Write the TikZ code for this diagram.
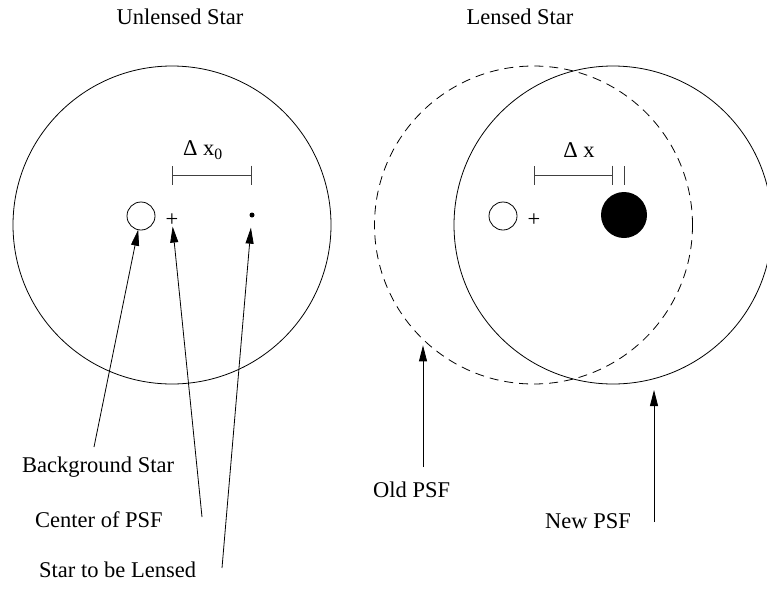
\documentclass[tikz,border=0pt]{standalone}
\usepackage{fontspec}
\setmainfont{Liberation Serif}
\usetikzlibrary{arrows.meta}
\tikzset{
  psf/.style={circle,draw,line width=0.8pt,minimum size=318pt,inner sep=0pt,outer sep=0pt},
  srcstar/.style={circle,draw,line width=0.8pt,minimum size=#1,inner sep=0pt,outer sep=0pt},
  lab/.style={font=\fontsize{22.5}{26}\selectfont,inner sep=0pt},
  pointer/.style={-{Triangle[length=16pt,width=8pt]},line width=0.8pt},
  gauge/.style={{Bar[width=19pt]}-{Bar[width=19pt]},line width=0.8pt,draw=black!75},
}

\begin{document}
\begin{tikzpicture}[x=1pt,y=-1pt]
  \useasboundingbox (0,0) rectangle (767,589);
  % left panel: unlensed star
  \node[lab,anchor=base] (ttl1) at (180,24) {Unlensed Star};
  \node[psf] (psf1) at (172,225) {};
  \node[srcstar=28pt] (bg1) at (141,216) {};
  \node[lab] (cen1) at (172,220) {+};
  \node[circle,fill,minimum size=5pt,inner sep=0pt] (lens1) at (252,215) {};
  \draw[gauge] (172,175) -- (252,175);
  \node[lab] (dx0) at (203,150) {Δ x\textsubscript{0}};
  % left panel: labels
  \node[lab,anchor=base west] (bgl) at (22,472) {Background Star};
  \node[lab,anchor=base west] (cpl) at (35,527) {Center of PSF};
  \node[lab,anchor=base west] (sll) at (39,577) {Star to be Lensed};
  \coordinate (bgtail) at (94,447);
  \coordinate (cptail) at (202,517);
  \coordinate (sltail) at (222,568);
  \draw[pointer] (bgtail) -- (bg1);
  \draw[pointer] (cptail) -- (cen1);
  \draw[pointer,shorten >=10pt] (sltail) -- (lens1);
  % right panel: lensed star
  \node[lab,anchor=base] (ttl2) at (520,24) {Lensed Star};
  \node[psf,dash pattern=on 9pt off 6pt] (psf0) at (533.5,225) {};
  \node[psf] (psf2) at (613,225) {};
  \node[srcstar=28pt] (bg2) at (503,216) {};
  \node[lab] (cen2) at (534,220) {+};
  \node[circle,fill,minimum size=46pt,inner sep=0pt] (lens2) at (624,215) {};
  \draw[gauge] (533.5,175) -- (613,175);
  \draw[line width=0.8pt,draw=black!75] (624,166) -- (624,185);
  \node[lab] (dx) at (579,150) {Δ x};
  % right panel: labels
  \node[lab,anchor=base west] (oldl) at (373,497) {Old PSF};
  \node[lab,anchor=base west] (newl) at (545,528) {New PSF};
  \coordinate (oldtail) at (423,467);
  \coordinate (newtail) at (654,522);
  \draw[pointer,shorten >=6pt] (oldtail) -- (oldtail |- psf0.226);
  \draw[pointer,shorten >=6pt] (newtail) -- (newtail |- psf2.south);
\end{tikzpicture}
\end{document}
